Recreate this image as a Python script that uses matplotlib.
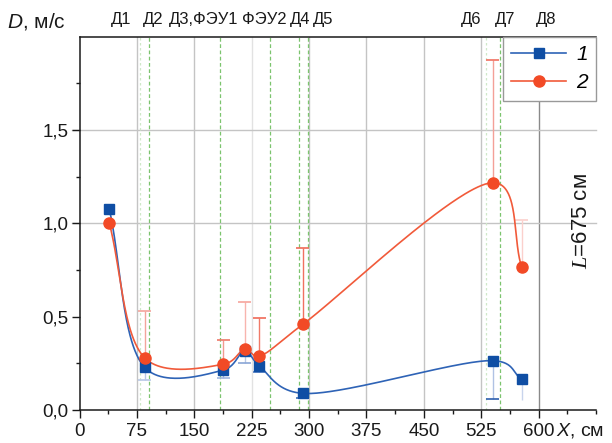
import numpy as np
import matplotlib
matplotlib.use("Agg")
import matplotlib.pyplot as plt
from matplotlib.lines import Line2D
from matplotlib.ticker import FuncFormatter, MultipleLocator, FixedLocator

plt.rcParams['font.family'] = ['Liberation Sans', 'DejaVu Sans']
plt.rcParams['mathtext.fontset'] = 'custom'
plt.rcParams['mathtext.it'] = 'Liberation Sans:italic'
plt.rcParams['mathtext.rm'] = 'Liberation Sans'
plt.rcParams['mathtext.bf'] = 'Liberation Serif:italic'

# ---------------- data ----------------
x_pos = [39, 85, 188, 216, 235, 292, 540, 578]
d1 = [1.075, 0.229, 0.214, 0.316, 0.236, 0.089, 0.264, 0.164]
d1_err_down = [0.0, 0.069, 0.044, 0.063, 0.034, 0.026, 0.207, 0.110]
d2 = [1.0, 0.280, 0.245, 0.325, 0.289, 0.459, 1.217, 0.764]
d2_err_up = [0.0, 0.250, 0.128, 0.253, 0.202, 0.407, 0.656, 0.254]

grid_x = [75, 150, 225, 300, 375, 450, 525, 600]
det_dashed = [91, 183, 249, 287, 299, 550]
det_dotted = [79, 531]
det_labels = ['Д1', 'Д2', 'Д3,ФЭУ1', 'ФЭУ2', 'Д4', 'Д5', 'Д6', 'Д7', 'Д8']
det_label_x = [55, 96, 162, 242, 288, 319, 512, 556, 610]
x_ticks = [0, 75, 150, 225, 300, 375, 450, 525, 600]
y_ticks = [0.0, 0.5, 1.0, 1.5]
h_grid = [1.0, 1.5]
series_labels = ['1', '2']

XS, YS = 0.7633, 186.7  # px per data unit, so the smooth curve is built in display proportions

# ---------------- helpers ----------------
def catmull_rom(x, y, n=80, alpha=0.25):
    P = np.column_stack([np.asarray(x, float) * XS, np.asarray(y, float) * YS])
    P = np.vstack([2 * P[0] - P[1], P, 2 * P[-1] - P[-2]])
    out = []
    for i in range(1, len(P) - 2):
        p0, p1, p2, p3 = P[i - 1], P[i], P[i + 1], P[i + 2]
        t0 = 0.0
        t1 = t0 + np.linalg.norm(p1 - p0) ** alpha
        t2 = t1 + np.linalg.norm(p2 - p1) ** alpha
        t3 = t2 + np.linalg.norm(p3 - p2) ** alpha
        tt = np.linspace(t1, t2, n)[:, None]
        A1 = (t1 - tt) / (t1 - t0) * p0 + (tt - t0) / (t1 - t0) * p1
        A2 = (t2 - tt) / (t2 - t1) * p1 + (tt - t1) / (t2 - t1) * p2
        A3 = (t3 - tt) / (t3 - t2) * p2 + (tt - t2) / (t3 - t2) * p3
        B1 = (t2 - tt) / (t2 - t0) * A1 + (tt - t0) / (t2 - t0) * A2
        B2 = (t3 - tt) / (t3 - t1) * A2 + (tt - t1) / (t3 - t1) * A3
        out.append((t2 - tt) / (t2 - t1) * B1 + (tt - t1) / (t2 - t1) * B2)
    C = np.vstack(out)
    return C[:, 0] / XS, C[:, 1] / YS

# ---------------- figure ----------------
fig = plt.figure(figsize=(6.12, 4.43), dpi=100)
ax = fig.add_axes([79.5 / 612, 33 / 443, (596 - 79.5) / 612, (410 - 36.5) / 443])
ax.set_xlim(0, 675)
ax.set_ylim(0, 2.0)

for gx in grid_x:
    col = '#c4c4c4'
    if gx == 225:
        col = '#e2e2e2'
    if gx == 600:
        col = '#8a8a8a'
    ax.axvline(gx, color=col, lw=1.0, zorder=1)
for dx in det_dashed:
    ax.axvline(dx, color='#7cc46e', lw=0.9, ls=(0, (3, 2)), zorder=1.2)
for dx in det_dotted:
    ax.axvline(dx, color='#cfe8c8', lw=0.9, ls=(0, (2, 2)), zorder=1.2)
for hy in h_grid:
    ax.axhline(hy, xmin=-8 / 516.5, color='#c4c4c4', lw=1.0, zorder=1, clip_on=False)

blue_line = '#2e63b6'
blue_mk = '#0f4ea4'
red_line = '#f15a3a'
red_mk = '#f24a26'

red_ecol = ['#f6a9a2', '#f4a49c', '#f29a90', '#f8b4ae', '#f07a68', '#f07060', '#f4a098', '#fbd0cc']
red_ccol = ['#f6a9a2', '#f4a49c', '#ee7868', '#f6a49c', '#f06a58', '#f06a58', '#f07060', '#fbd0cc']
blue_ecol = ['#b8c8e6', '#b8c8e6', '#a0b6de', '#b8c8e6', '#8aa6d6', '#8aa6d6', '#b0c2e4', '#c8d4ec']
blue_ccol = ['#b8c8e6', '#b8c8e6', '#a0b6de', '#8aa6d6', '#4a78c0', '#3a6cb8', '#2e5fae', '#c8d4ec']
for i in range(len(x_pos)):
    if d2_err_up[i] > 0:
        ax.errorbar([x_pos[i]], [d2[i]], yerr=[[0], [d2_err_up[i]]], fmt='none',
                    ecolor=red_ecol[i], elinewidth=1.0, capsize=0, zorder=2)
        ax.errorbar([x_pos[i]], [d2[i] + d2_err_up[i]], xerr=[[8.5], [8.5]], fmt='none',
                    ecolor=red_ccol[i], elinewidth=1.2, capsize=0, zorder=2)
    if d1_err_down[i] > 0:
        ax.errorbar([x_pos[i]], [d1[i]], yerr=[[d1_err_down[i]], [0]], fmt='none',
                    ecolor=blue_ecol[i], elinewidth=1.0, capsize=0, zorder=2)
        if i != 7:
            ax.errorbar([x_pos[i]], [d1[i] - d1_err_down[i]], xerr=[[8.5], [8.5]], fmt='none',
                        ecolor=blue_ccol[i], elinewidth=1.2, capsize=0, zorder=2)

xs, ys = catmull_rom(x_pos, d1)
ax.plot(xs, ys, color=blue_line, lw=1.2, zorder=3)
xs, ys = catmull_rom(x_pos, d2)
ax.plot(xs, ys, color=red_line, lw=1.2, zorder=3.1)
ax.plot(x_pos, d1, ls='none', marker='s', ms=7, color=blue_mk, mec=blue_mk, zorder=4)
ax.plot(x_pos, d2, ls='none', marker='o', ms=8, color=red_mk, mec=red_mk, zorder=4.1)

ax.spines['right'].set_visible(False)
for s in ['left', 'bottom', 'top']:
    ax.spines[s].set_color('#1a1a1a')
    ax.spines[s].set_linewidth(1.1)

ax.xaxis.set_major_locator(FixedLocator(x_ticks))
ax.xaxis.set_minor_locator(MultipleLocator(37.5))
ax.yaxis.set_major_locator(FixedLocator(y_ticks))
ax.yaxis.set_minor_locator(FixedLocator([0.25, 0.75, 1.25, 1.75]))
ax.xaxis.set_major_formatter(FuncFormatter(lambda v, p: f"{v:.0f}"))
ax.yaxis.set_major_formatter(FuncFormatter(lambda v, p: f"{v:.1f}".replace('.', ',')))
ax.tick_params(axis='both', which='major', direction='out', length=6, width=1.0,
               labelsize=13.5, colors='#1a1a1a', pad=3)
ax.tick_params(axis='both', which='minor', direction='out', length=3, width=1.0, colors='#1a1a1a')
ax.tick_params(axis='y', which='major', length=6, pad=2)

for lab, lx in zip(det_labels, det_label_x):
    ax.text(lx, 1.045, lab, transform=ax.get_xaxis_transform(), ha='center', va='center',
            fontsize=12, color='#1a1a1a', clip_on=False)

fig.text(7 / 612, 1 - 21 / 443, r"$D$, м/с", fontsize=15, ha='left', va='center', color='#1a1a1a')
fig.text(556 / 612, 1 - 431 / 443, r"$X$, см", fontsize=14, ha='left', va='center', color='#1a1a1a')
ax.text(656, 1.012, r"$\mathbf{L}$=675 см", rotation=90, ha='center', va='center',
        fontsize=16, color='#1a1a1a')

handles = [Line2D([], [], color=blue_line, lw=1.2, marker='s', ms=7, mfc=blue_mk, mec=blue_mk),
           Line2D([], [], color=red_line, lw=1.2, marker='o', ms=8, mfc=red_mk, mec=red_mk)]
leg = ax.legend(handles, series_labels, loc='upper right', bbox_to_anchor=(1.0, 1.0),
                borderaxespad=0, fancybox=False, framealpha=1, edgecolor='#999999',
                prop={'family': 'Liberation Sans', 'style': 'italic', 'size': 15},
                handlelength=2.6, handletextpad=0.5, borderpad=0.4, labelspacing=0.45)
leg.get_frame().set_linewidth(1.0)
leg.set_zorder(10)

fig.savefig('out.png', dpi=100)
